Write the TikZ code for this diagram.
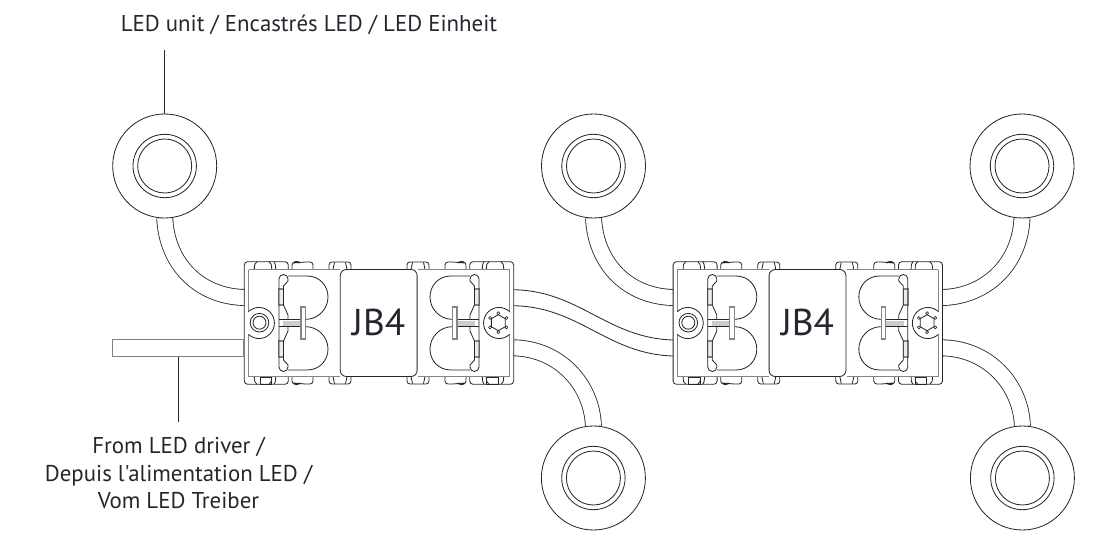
\documentclass[tikz,border=0pt]{standalone}
\usepackage{fontspec}
\newfontfamily\ptsans{PT Sans}
\definecolor{ink}{HTML}{26262E}
\pgfdeclarelayer{bg}
\pgfsetlayers{bg,main}
\newcommand{\quadrant}{%
  % outer shell, end clip group
  \draw[dk] (244.3,323) -- (244.3,265) arc[start angle=180,end angle=270,radius=3.3] -- (285,261.7) arc[start angle=270,end angle=360,radius=3.3] -- (288.3,269.5);
  \draw[dk] (254.3,269.5) .. controls (254.3,265) and (255,262.5) .. (257,261.7);
  \draw[dk] (271.7,269.5) .. controls (271.7,265) and (271,262.5) .. (269,261.7);
  \draw[dk] (275.7,269.5) .. controls (275.7,265) and (275,262.5) .. (274,261.7);
  % middle clips
  \draw[dk] (292,269.5) -- (292,265) arc[start angle=180,end angle=270,radius=3] -- (299.5,262) -- (299.5,263) arc[start angle=180,end angle=0,radius=-3,y radius=-1.6] -- (305.5,262) -- (310,262) arc[start angle=270,end angle=360,radius=3] -- (313,269.5);
  \draw[dk] (329,269.5) -- (329,265) arc[start angle=180,end angle=270,radius=3] -- (348,262) arc[start angle=270,end angle=360,radius=3] -- (351,269.5);
  \draw[dk] (333,269.5) -- (334.5,262.3) (347,269.5) -- (345.5,262.3);
  % frame lines
  \draw[gr] (248.5,269.5) -- (340,269.5);
  \draw[gr] (248.5,269.5) -- (248.5,311.6);
  \draw[dk] (248.5,311.6) arc[start angle=-133,end angle=0,radius=15.4];
  % strip
  \draw[gr,fill=black!8] (278.7,289) rectangle (283.4,305);
  \draw[dk] (279,323) -- (279,279) arc[start angle=180,end angle=270,radius=4.5] arc[start angle=270,end angle=360,radius=4.5] -- (288,281) -- (283.5,286) -- (283.5,305) -- (288,315) -- (288,319.3);
  % dome
  \draw[dk] (288,276) -- (307,276) .. controls (320,276) and (328,286) .. (328,297) .. controls (328,309) and (318,319.3) .. (306,319.3);
  % T bar
  \fill[black!20] (283,320.5) rectangle (301,323);
  \draw[dk] (279,319.3) -- (301,319.3);
  \draw[gr] (301,323) -- (301,307) -- (305.6,307) -- (305.6,323);
}
\newcommand{\module}[2]{%
  \begin{scope}[shift={(#1,0)}]
    \quadrant
    \begin{scope}[shift={(758,0)},xscale=-1]\quadrant\end{scope}
    \begin{scope}[shift={(0,646)},yscale=-1]\quadrant\end{scope}
    \begin{scope}[shift={(758,646)},xscale=-1,yscale=-1]\quadrant\end{scope}
    \draw[dk] (260,377) rectangle (271.7,384.3);
    \draw[dk] (486.3,377) rectangle (498,384.3);
    \node[panel] (#2) at (378.7,323) {\raisebox{1.8pt}{JB4}};
    \draw[thin1] (259.5,322.7) circle[radius=9.3] (259.5,322.7) circle[radius=6.5];
    \foreach \a in {30,90,...,330} {\fill[white] (498.3,322.7) ++(\a:9.5) circle[radius=1.6];
      \draw[dk,line width=.45pt] (498.3,322.7) ++(\a:9.5) circle[radius=1.5];}
    \draw[dk] (498.3,322.7) ++(30:8) -- ++(150:8) -- ++(210:8) -- ++(270:8) -- ++(330:8) -- ++(30:8) -- cycle;
  \end{scope}}
\newcommand{\led}[2]{%
  \node[ledring] (#1) at (#2) {};
  \draw[thin1] (#1.center) circle[radius=31.7] (#1.center) circle[radius=27];}
\tikzset{
  dk/.style={draw=ink,line width=.62pt,line join=round},
  gr/.style={draw=black!48,line width=.85pt},
  thin1/.style={draw=ink,line width=.62pt},
  ledring/.style={circle,draw=ink,line width=.62pt,fill=white,inner sep=0pt,outer sep=0pt,minimum size=78pt},
  panel/.style={rectangle,rounded corners=4.5pt,draw=ink,line width=.62pt,fill=white,inner sep=0pt,outer sep=0pt,minimum width=57.6pt,minimum height=80.2pt,font=\ptsans\fontsize{28}{28}\selectfont,text=ink},
  cable/.style={draw=ink,line width=.62pt,double=white,double distance=11.4pt},
  wirebar/.style={rectangle,draw=black!50,line width=.9pt,fill=white,inner sep=0pt,outer sep=0pt,minimum width=98.5pt,minimum height=13pt},
  leader/.style={draw=ink,line width=.62pt},
  caption/.style={align=center,text=ink,font=\ptsans\fontsize{17.15}{20.6}\selectfont,inner sep=0pt},
}
\begin{document}
\begin{tikzpicture}[x=0.75pt,y=-0.75pt]
\useasboundingbox (0,0) rectangle (1094,552);
\led{la}{164.7,166}
\led{lb}{593.5,166}
\led{lc}{1022,166}
\led{ld}{593.4,478}
\led{le}{1022.4,478}
\module{0}{ja}
\module{428.8}{jb}
\node[wirebar] (drv) at (178.35,348) {};
\coordinate (ja1) at (244.3,297.5);
\coordinate (jb1) at (673.1,297.5);
\coordinate (ja2) at (514,347.8);
\coordinate (jb2) at (942.8,347.8);
\coordinate (jb3) at (942.6,297.5);
\coordinate (sa) at (513.6,289.7);
\coordinate (sb) at (513.6,305.7);
\coordinate (ta) at (673.1,340);
\coordinate (tb) at (673.1,356);
\begin{pgfonlayer}{bg}
\draw[cable] (la.south) .. controls (167,265) and (200,296.5) .. (ja1);
\draw[cable] (lb.south) .. controls (595.8,265) and (628.8,296.5) .. (jb1);
\draw[cable] (lc.south) .. controls (1020,265) and (985,296.5) .. (jb3);
\draw[cable] (ja2) .. controls (560,349) and (592,385) .. (ld.north);
\draw[cable] (jb2) .. controls (988.8,349) and (1021,385) .. (le.north);
\end{pgfonlayer}
\draw[leader] (sa) .. controls (580,291) and (607,338) .. (ta);
\draw[leader] (sb) .. controls (580,307) and (607,354) .. (tb);
\node[caption] (t1) at (309,25) {LED unit / Encastrés LED / LED Einheit};
\coordinate (t1a) at (164.7,50);
\draw[leader] (t1a) -- (la.north);
\node[caption] (t2) at (178.5,473) {From LED driver /\\Depuis l'alimentation LED /\\Vom LED Treiber};
\coordinate (t2a) at (178.35,421.7);
\draw[leader] (drv.south) -- (t2a);
\end{tikzpicture}
\end{document}
